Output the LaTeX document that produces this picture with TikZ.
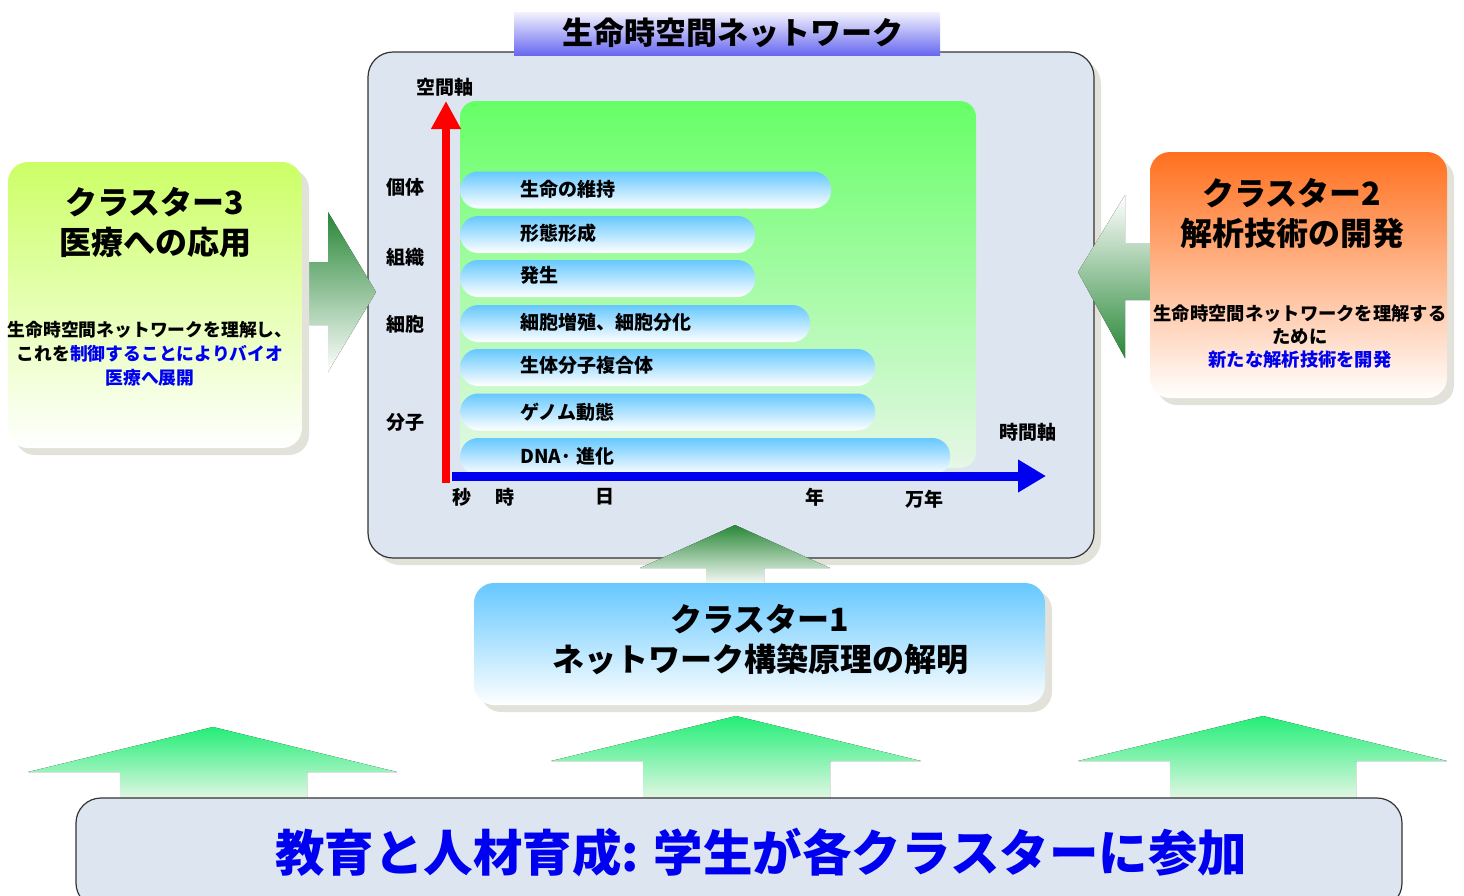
\documentclass[tikz,border=0pt]{standalone}
\usepackage{fontspec}
\setmainfont{Noto Sans CJK JP}
\usetikzlibrary{arrows.meta,shadows}
\definecolor{panelgray}{RGB}{221,230,240}
\definecolor{titleblue}{RGB}{104,104,240}
\definecolor{skyblue}{RGB}{102,200,255}
\definecolor{lawngreen}{RGB}{102,255,102}
\definecolor{palegreen}{RGB}{230,247,230}
\definecolor{limegreen}{RGB}{204,255,102}
\definecolor{clusterorange}{RGB}{255,112,30}
\definecolor{springgreen}{RGB}{34,238,119}
\definecolor{darkgreen}{RGB}{40,135,55}
\definecolor{greygreen}{RGB}{150,175,150}
\definecolor{shadowgray}{RGB}{226,226,218}
\definecolor{textblue}{RGB}{0,0,240}

\begin{document}
\begin{tikzpicture}[x=1pt,y=-1pt,
  box/.style={rectangle,rounded corners=20pt,inner sep=0pt},
  shadowed/.style={drop shadow={shadow xshift=7pt,shadow yshift=-7pt,fill=shadowgray,opacity=1}},
  pill/.style={rectangle,rounded corners=18pt,inner sep=0pt,minimum height=37pt,anchor=west,top color=skyblue,bottom color=white},
  pilltext/.style={anchor=west,inner sep=0pt,font=\fontsize{19}{19}\selectfont\bfseries},
  axislabel/.style={inner sep=0pt,font=\fontsize{19}{19}\selectfont\bfseries},
  bigtext/.style={align=center,inner sep=0pt,font=\fontsize{32}{40}\selectfont\bfseries},
  smalltext/.style={align=center,inner sep=0pt,font=\fontsize{17.8}{24}\selectfont\bfseries}]
	\useasboundingbox (0,0) rectangle (1464,895);
	% central panel
	\node[box,shadowed,rounded corners=25pt,fill=panelgray,draw=black!80,line width=1.2pt,minimum width=726pt,minimum height=506pt] (panel) at (731,305) {};
	\node[rectangle,inner sep=0pt,top color=titleblue!8,bottom color=titleblue,minimum width=426pt,minimum height=43pt] (title) at (727,33.5) {};
	\node[inner sep=0pt,font=\fontsize{31}{31}\selectfont\bfseries] (titletxt) at (733,33) {生命時空間ネットワーク};
	\node[box,rounded corners=16pt,top color=lawngreen,middle color=lawngreen!55,bottom color=palegreen,minimum width=516pt,minimum height=367pt] (field) at (718,284.5) {};
	% bars
	\node[pill,minimum width=371pt] (life) at (460,190) {};
	\node[pill,minimum width=295pt] (morph) at (460,234.5) {};
	\node[pill,minimum width=295pt] (dev) at (460,278.5) {};
	\node[pill,minimum width=350pt] (cell) at (460,323.5) {};
	\node[pill,minimum width=415pt] (complex) at (460,367.5) {};
	\node[pill,minimum width=415pt] (genome) at (460,412) {};
	\node[pill,minimum width=490pt] (dna) at (460,456.5) {};
	\node[pilltext] (lifetxt) at (520,189) {生命の維持};
	\node[pilltext] (morphtxt) at (520,233) {形態形成};
	\node[pilltext] (devtxt) at (520,275) {発生};
	\node[pilltext] (celltxt) at (520,322) {細胞増殖、細胞分化};
	\node[pilltext] (complextxt) at (520,365) {生体分子複合体};
	\node[pilltext] (genometxt) at (520,412) {ゲノム動態};
	\node[pilltext] (dnatxt) at (520,456) {DNA· 進化};
	% axes
	\coordinate (yfoot) at (446,483);
	\coordinate (ytip) at (446,101);
	\coordinate (xfoot) at (452,476);
	\coordinate (xtip) at (1046,476);
	\draw[red,line width=8pt,-{Triangle[width=28pt,length=28pt]}] (yfoot) -- (ytip);
	\draw[textblue,line width=9pt,-{Triangle[width=31pt,length=28pt]}] (xfoot) -- (xtip);
	\node[axislabel] (space) at (445,87) {空間軸};
	\node[axislabel] (time) at (1028,432) {時間軸};
	\node[axislabel] (organism) at (405,187) {個体};
	\node[axislabel] (tissue) at (405,257) {組織};
	\node[axislabel] (cellular) at (405,324) {細胞};
	\node[axislabel] (molecule) at (405,422) {分子};
	\node[axislabel] (sec) at (462,497) {秒};
	\node[axislabel] (hour) at (505,497) {時};
	\node[axislabel] (day) at (605,497) {日};
	\node[axislabel] (year) at (815,497) {年};
	\node[axislabel] (myriad) at (924,499) {万年};
	% block arrows into the panel
	\fill[top color=darkgreen,middle color=greygreen,bottom color=white] (300,262) -- (328,262) -- (328,212) -- (376,292) -- (328,372) -- (328,325) -- (300,325) -- cycle;
	\fill[top color=white,middle color=greygreen,bottom color=darkgreen] (1152,243) -- (1125,243) -- (1125,195) -- (1078,272) -- (1125,358) -- (1125,300) -- (1152,300) -- cycle;
	\fill[top color=darkgreen,middle color=greygreen!70,bottom color=white] (735,525) -- (830,568) -- (764,568) -- (764,586) -- (706,586) -- (706,568) -- (640,568) -- cycle;
	% clusters
	\node[box,shadowed,top color=limegreen,middle color=limegreen!45,bottom color=white,minimum width=294pt,minimum height=286pt] (c3) at (155,305) {};
	\node[bigtext] (c3title) at (155,223) {クラスター3\\医療への応用};
	\node[smalltext] (c3txt) at (150,354) {生命時空間ネットワークを理解し、\\これを\textcolor{textblue}{制御することによりバイオ}\\\textcolor{textblue}{医療へ展開}};
	\node[box,shadowed,top color=clusterorange,middle color=clusterorange!35,bottom color=white,minimum width=297pt,minimum height=246pt] (c2) at (1298.5,275) {};
	\node[bigtext] (c2title) at (1292,213) {クラスター2\\解析技術の開発};
	\node[smalltext,font=\fontsize{18.3}{23}\selectfont\bfseries] (c2txt) at (1300,337) {生命時空間ネットワークを理解する\\ために\\\textcolor{textblue}{新たな解析技術を開発}};
	\node[box,shadowed,top color=skyblue,middle color=skyblue!45,bottom color=white,minimum width=571pt,minimum height=122pt] (c1) at (759.5,644) {};
	\node[bigtext] (c1title) at (760,640) {クラスター1\\ネットワーク構築原理の解明};
	% education
	\fill[top color=springgreen,bottom color=palegreen] (213,727) -- (397,772) -- (307,772) -- (307,800) -- (120,800) -- (120,772) -- (28,772) -- cycle;
	\fill[top color=springgreen,bottom color=palegreen] (736,716) -- (921,761) -- (830,761) -- (830,800) -- (643,800) -- (643,761) -- (551,761) -- cycle;
	\fill[top color=springgreen,bottom color=palegreen] (1263,716) -- (1447,761) -- (1356,761) -- (1356,800) -- (1170,800) -- (1170,761) -- (1078,761) -- cycle;
	\node[box,rounded corners=25pt,fill=panelgray,draw=black!80,line width=1.2pt,minimum width=1326pt,minimum height=110pt] (edu) at (739,853) {};
	\node[inner sep=0pt,text=textblue,font=\fontsize{49.5}{49.5}\selectfont\bfseries] (edutxt) at (761,853) {教育と人材育成: 学生が各クラスターに参加};
\end{tikzpicture}
\end{document}
